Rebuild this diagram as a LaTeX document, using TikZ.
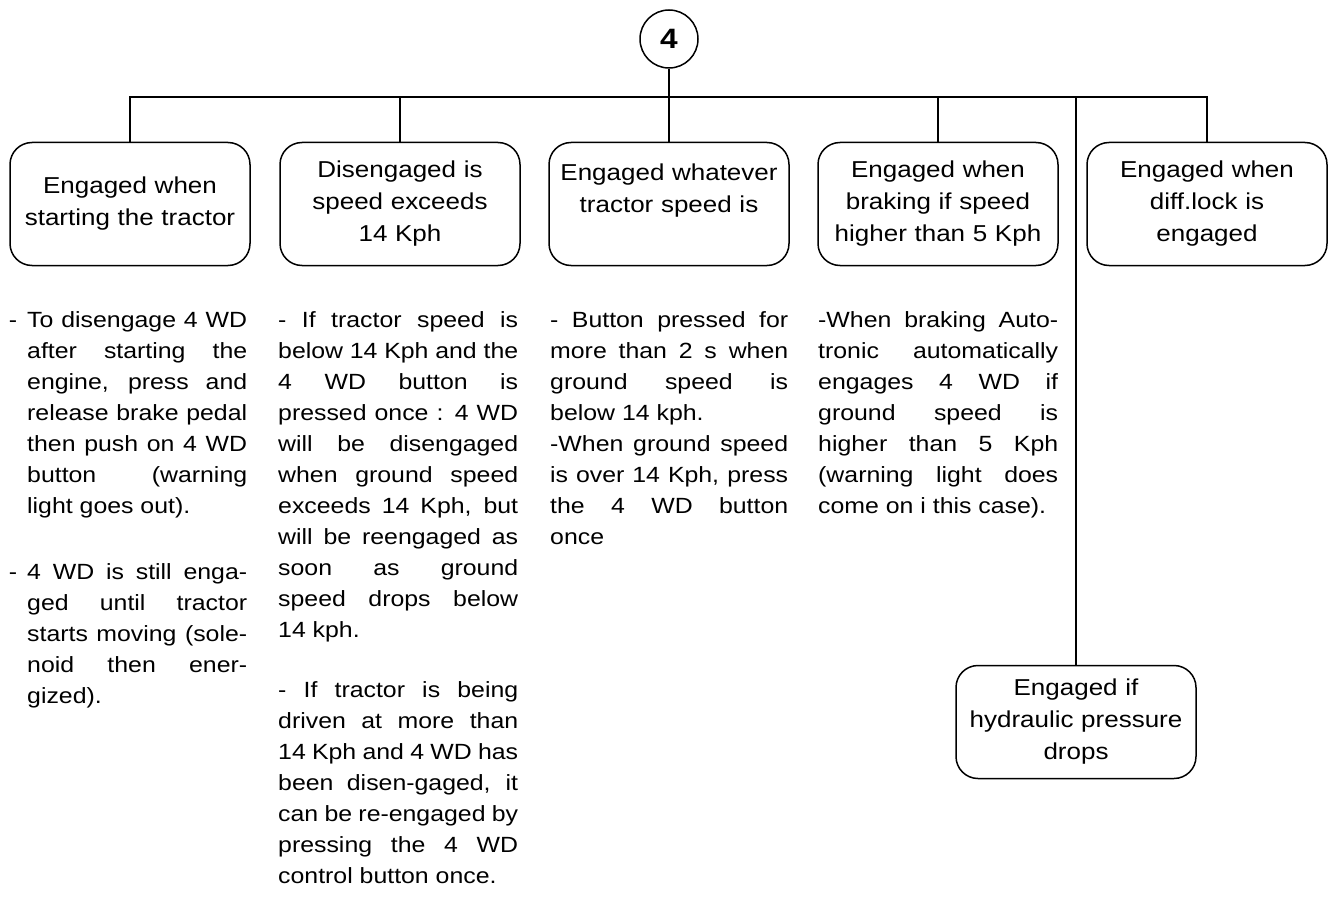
\documentclass[tikz,border=0pt]{standalone}
\usepackage{fontspec}
\setmainfont[FakeStretch=1.13]{Liberation Sans}
\setlength{\parindent}{0pt}

\begin{document}
\begin{tikzpicture}[x=1pt,y=-1pt,
  cond/.style={draw, line width=1.5pt, rounded corners=22pt, minimum width=240pt,
    minimum height=123pt, text width=236pt, align=center, inner sep=0pt,
    font=\fontsize{23}{32}\selectfont},
  note/.style={anchor=north west, inner sep=0pt, align=justify,
    font=\fontsize{22}{31}\selectfont,
    execute at begin node={\spaceskip=6.9pt plus 40pt minus 5pt\tolerance=10000
      \hyphenpenalty=10000\exhyphenpenalty=10000}},
  link/.style={line width=1.3pt}]
\useasboundingbox (0,0) rectangle (1330,904);

\node[circle, draw, line width=1.5pt, minimum size=58pt, inner sep=0pt,
  font=\bfseries\fontsize{28}{28}\selectfont] (top) at (669,39) {4};
\coordinate (bus) at (669,97);

% the five cases hanging from the bus
\node[cond] (start) at (130,204) {Engaged when\\starting the tractor};
\node[cond] (over) at (400,204) {Disengaged is\\speed exceeds\\14 Kph};
\node[cond] (any) at (669,204) {Engaged whatever\\tractor speed is\\\mbox{}};
\node[cond] (brake) at (938,204) {Engaged when\\braking if speed\\higher than 5 Kph};
\node[cond] (diff) at (1207,204) {Engaged when\\diff.lock is\\engaged};
\node[cond, minimum height=113pt] (hyd) at (1076,722) {Engaged if\\hydraulic pressure\\drops};

\draw[link] (top) -- (bus);
\foreach \b in {start,over,any,brake,diff,hyd}
  \draw[link] (\b.north) |- (bus);

% notes under the boxes
\node[note, text width=220pt] (n1) at (27,306) {%
\strut\llap{-\hspace{10pt}}To disengage 4 WD\linebreak
after starting the\linebreak
engine, press and\linebreak
release brake pedal\linebreak
then push on 4 WD\linebreak
button (warning\linebreak
light goes out).\par\vspace{35pt}
\strut\llap{-\hspace{10pt}}4 WD is still enga-\linebreak
ged until tractor\linebreak
starts moving (sole-\linebreak
noid then ener-\linebreak
gized).};

\node[note, text width=240pt] (n2) at (278,306) {%
\strut - If tractor speed is\linebreak
below 14 Kph and the\linebreak
4 WD button is\linebreak
pressed once : 4 WD\linebreak
will be disengaged\linebreak
when ground speed\linebreak
exceeds 14 Kph, but\linebreak
will be reengaged as\linebreak
soon as ground\linebreak
speed drops below\linebreak
14 kph.\par\vspace{29pt}
\strut - If tractor is being\linebreak
driven at more than\linebreak
14 Kph and 4 WD has\linebreak
been disen-gaged, it\linebreak
can be re-engaged by\linebreak
pressing the 4 WD\linebreak
control button once.};

\node[note, text width=238pt] (n3) at (550,306) {%
\strut - Button pressed for\linebreak
more than 2 s when\linebreak
ground speed is\linebreak
below 14 kph.\par
\strut -When ground speed\linebreak
is over 14 Kph, press\linebreak
the 4 WD button\linebreak
once};

\node[note, text width=240pt] (n4) at (818,306) {%
\strut -When braking Auto-\linebreak
tronic automatically\linebreak
engages 4 WD if\linebreak
ground speed is\linebreak
higher than 5 Kph\linebreak
(warning light does\linebreak
come on i this case).};
\end{tikzpicture}
\end{document}
